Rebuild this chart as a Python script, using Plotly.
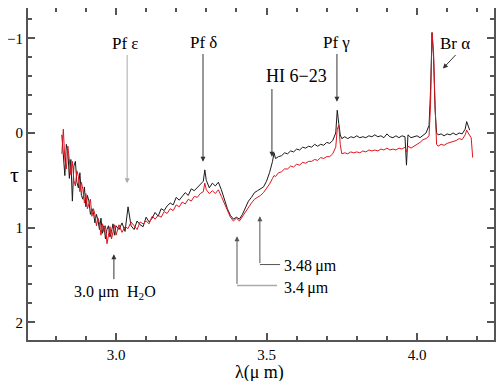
import plotly.graph_objects as go

# wavelength grid (micron)
wavelength = [
    2.820, 2.825, 2.830, 2.835, 2.840, 2.845, 2.850, 2.855, 2.860, 2.865,
    2.870, 2.875, 2.880, 2.885, 2.890, 2.895, 2.900, 2.905, 2.910, 2.915,
    2.920, 2.925, 2.930, 2.935, 2.940, 2.945, 2.950, 2.955, 2.960, 2.965,
    2.970, 2.975, 2.980, 2.985, 2.990, 2.995, 3.000,
    3.01, 3.02, 3.03, 3.04, 3.05, 3.06, 3.07, 3.08, 3.09, 3.10,
    3.11, 3.12, 3.13, 3.14, 3.15, 3.16, 3.17, 3.18, 3.19, 3.20,
    3.21, 3.22, 3.23, 3.24, 3.25, 3.26, 3.27, 3.28, 3.29, 3.295,
    3.30, 3.31, 3.32, 3.33, 3.34, 3.35, 3.36, 3.37, 3.38, 3.39,
    3.40, 3.41, 3.42, 3.43, 3.44, 3.45, 3.46, 3.47, 3.48, 3.49,
    3.50, 3.51, 3.52, 3.525,
    3.53, 3.54, 3.55, 3.56, 3.57, 3.58, 3.59, 3.60, 3.61, 3.62,
    3.63, 3.64, 3.65, 3.66, 3.67, 3.68, 3.69, 3.70, 3.71, 3.72,
    3.73, 3.735, 3.74, 3.745,
    3.75, 3.76, 3.77, 3.78, 3.79, 3.80, 3.81, 3.82, 3.83, 3.84,
    3.85, 3.86, 3.87, 3.88, 3.89, 3.90, 3.91, 3.92, 3.93, 3.94,
    3.95, 3.96, 3.965,
    3.97, 3.98, 3.99, 4.00, 4.01, 4.02, 4.03, 4.04,
    4.045, 4.05, 4.055, 4.06, 4.065,
    4.07, 4.08, 4.09, 4.10, 4.11, 4.12, 4.13, 4.14, 4.15, 4.16,
    4.165, 4.17, 4.175, 4.18, 4.185,
]

tau_black = [
    0.02, 0.30, 0.45, 0.12, 0.20, 0.48, 0.28, 0.72, 0.35, 0.30,
    0.52, 0.58, 0.42, 0.66, 0.70, 0.57, 0.78, 0.66, 0.72, 0.86,
    0.80, 0.84, 0.95, 0.86, 0.92, 1.02, 0.90, 1.06, 0.98, 1.12,
    1.02, 0.98, 1.10, 1.04, 0.96, 1.08, 0.98,
    1.02, 0.95, 1.04, 0.78, 0.98, 1.02, 0.93, 0.97, 0.99, 0.89,
    0.94, 0.90, 0.84, 0.88, 0.80, 0.82, 0.77, 0.74, 0.76, 0.68,
    0.71, 0.67, 0.63, 0.66, 0.59, 0.61, 0.58, 0.55, 0.51, 0.39,
    0.50, 0.58, 0.53, 0.56, 0.52, 0.60, 0.70, 0.80, 0.87, 0.91,
    0.89, 0.91, 0.86, 0.79, 0.72, 0.68, 0.63, 0.61, 0.59, 0.57,
    0.51, 0.42, 0.30, 0.21,
    0.27, 0.25, 0.24, 0.21, 0.22, 0.19, 0.20, 0.17, 0.18, 0.15,
    0.16, 0.14, 0.15, 0.12, 0.14, 0.12, 0.13, 0.10, 0.11, 0.08,
    0.00, -0.24, -0.10, 0.02,
    0.06, 0.04, 0.06, 0.04, 0.05, 0.03, 0.05, 0.04, 0.05, 0.03,
    0.04, 0.02, 0.04, 0.03, 0.05, 0.01, 0.04, 0.05, 0.03, 0.05,
    0.03, 0.04, 0.34,
    0.02, 0.05, 0.04, 0.03, 0.05, 0.02, 0.00, -0.08,
    -0.45, -1.06, -0.80, -0.25, 0.00,
    0.02, 0.01, 0.03, 0.01, 0.02, 0.00, 0.02, 0.00, 0.01, -0.04,
    -0.12, -0.06, -0.03, None, None,
]

tau_red = [
    0.22, -0.04, 0.28, 0.38, 0.14, 0.34, 0.44, 0.30, 0.50, 0.56,
    0.40, 0.46, 0.62, 0.52, 0.60, 0.74, 0.64, 0.80, 0.76, 0.70,
    0.88, 0.80, 0.86, 0.98, 0.90, 0.95, 1.08, 0.96, 1.04, 0.98,
    1.17, 1.05, 0.99, 1.12, 1.03, 0.97, 1.08,
    0.97, 1.05, 0.99, 1.01, 0.94, 0.98, 1.02, 0.94, 0.96, 0.93,
    0.96, 0.88, 0.91, 0.87, 0.89, 0.83, 0.85, 0.80, 0.82, 0.76,
    0.78, 0.73, 0.75, 0.70, 0.72, 0.67, 0.68, 0.64, 0.62, 0.53,
    0.60, 0.64, 0.61, 0.64, 0.60, 0.67, 0.74, 0.82, 0.89, 0.93,
    0.90, 0.93, 0.88, 0.83, 0.78, 0.74, 0.70, 0.68, 0.66, 0.63,
    0.59, 0.54, 0.48, 0.45,
    0.46, 0.42, 0.41, 0.38, 0.38, 0.35, 0.36, 0.33, 0.34, 0.31,
    0.32, 0.30, 0.30, 0.28, 0.29, 0.26, 0.27, 0.25, 0.25, 0.22,
    0.15, -0.04, -0.08, 0.12,
    0.22, 0.21, 0.22, 0.20, 0.21, 0.20, 0.21, 0.19, 0.20, 0.18,
    0.19, 0.18, 0.19, 0.17, 0.18, 0.16, 0.18, 0.17, 0.18, 0.16,
    0.17, 0.15, 0.20,
    0.14, 0.16, 0.14, 0.12, 0.10, 0.07, 0.06, 0.03,
    -0.30, -1.06, -0.85, -0.30, 0.12,
    0.14, 0.12, 0.13, 0.11, 0.10, 0.09, 0.08, 0.06, 0.07, 0.02,
    -0.03, 0.00, 0.03, 0.05, 0.26,
]

FONT = "Liberation Serif, DejaVu Serif, serif"
AX = "#555555"

fig = go.Figure()
fig.add_trace(go.Scatter(x=wavelength, y=tau_black, mode="lines",
                         line=dict(color="#1a1a1a", width=1)))
fig.add_trace(go.Scatter(x=wavelength, y=tau_red, mode="lines",
                         line=dict(color="#e0141e", width=1)))

axis_common = dict(showline=True, linecolor=AX, linewidth=2, mirror="allticks",
                   ticks="inside", ticklen=7, tickwidth=1.5, tickcolor=AX,
                   showgrid=False, zeroline=False, automargin=False,
                   tickfont=dict(family=FONT, size=15, color="black"))

fig.update_xaxes(range=[2.7076, 4.2558], tickvals=[3.0, 3.5, 4.0],
                 ticktext=["3.0", "3.5", "4.0"],
                 minor=dict(ticks="inside", ticklen=4, tickcolor=AX, tickwidth=1.5,
                            dtick=0.1, tick0=2.7),
                 **axis_common)
fig.update_yaxes(range=[2.187, -1.32], tickvals=[-1, 0, 1, 2],
                 minor=dict(ticks="inside", ticklen=4, tickcolor=AX, tickwidth=1.5,
                            dtick=0.2, tick0=0),
                 **axis_common)

# labels
labels = [
    ("Pf ε", 3.033, -0.95, 17),
    ("Pf δ", 3.289, -0.96, 17),
    ("HI 6−23", 3.601, -0.60, 18),
    ("Pf γ", 3.731, -0.96, 17),
    ("Br α", 4.126, -0.95, 17),
    ("3.0 μm\u00a0\u00a0H<sub>2</sub>O", 2.997, 1.68, 16),
]
for txt, x, y, s in labels:
    fig.add_annotation(x=x, y=y, text=txt, showarrow=False,
                       font=dict(family=FONT, size=s, color="black"))
for txt, y in [("3.48\u2009μm", 1.41), ("3.4\u2009μm", 1.64)]:
    fig.add_annotation(x=3.552, y=y, text=txt, showarrow=False, xanchor="left",
                       font=dict(family=FONT, size=16, color="black"))

# arrows: (tail x, tail y, head x, head y, colour)
arrows = [
    (3.037, -0.84, 3.037, 0.53, "#aaaaaa"),
    (3.289, -0.85, 3.289, 0.305, "#333333"),
    (3.518, -0.48, 3.518, 0.25, "#333333"),
    (3.734, -0.85, 3.734, -0.33, "#333333"),
    (4.133, -0.84, 4.086, -0.68, "#333333"),
    (2.993, 1.56, 2.993, 1.28, "#333333"),
    (3.478, 1.39, 3.478, 0.88, "#555555"),
    (3.402, 1.61, 3.402, 1.09, "#555555"),
]
for tx, ty, hx, hy, c in arrows:
    fig.add_annotation(x=hx, y=hy, ax=tx, ay=ty, xref="x", yref="y",
                       axref="x", ayref="y", text="", showarrow=True,
                       arrowhead=2, arrowsize=1, arrowwidth=1, arrowcolor=c)

fig.add_shape(type="line", x0=3.478, y0=1.39, x1=3.545, y1=1.39,
              line=dict(color="#555555", width=1))
fig.add_shape(type="line", x0=3.402, y0=1.61, x1=3.535, y1=1.61,
              line=dict(color="#aaaaaa", width=1.5))

# axis titles
fig.add_annotation(xref="paper", x=-0.030, yref="y", y=0.44, text="τ",
                   xanchor="center", yanchor="middle",
                   showarrow=False, font=dict(family=FONT, size=22, color="black"))
fig.add_annotation(xref="x", x=3.478, yref="paper", y=-0.097, text="λ(μ\u00a0m)",
                   xanchor="center", yanchor="middle",
                   showarrow=False, font=dict(family=FONT, size=18, color="black"))

# the page body adds 8px around the figure, so the figure is sized to fit the window
fig.update_layout(width=488, height=373, margin=dict(l=20, r=2, t=0, b=41),
                  paper_bgcolor="white", plot_bgcolor="white", showlegend=False)

fig.write_html("out.html")
